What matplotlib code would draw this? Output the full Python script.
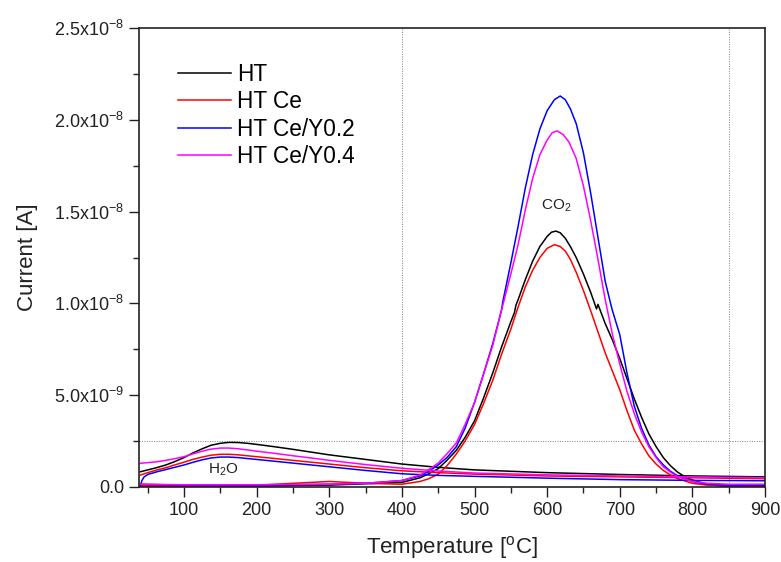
import matplotlib
matplotlib.use("Agg")
import matplotlib.pyplot as plt
from matplotlib.ticker import MultipleLocator, FixedLocator, FuncFormatter
import numpy as np

plt.rcParams['font.family'] = ['Liberation Sans', 'DejaVu Sans']
plt.rcParams['mathtext.default'] = 'regular'

# sample names and colours
names = ["HT", "HT Ce", "HT Ce/Y0.2", "HT Ce/Y0.4"]
colors = ["#000000", "#ff0000", "#0000ff", "#ff00ff"]

# H2O signal (in units of 1e-9 A)
h2o_t_ht = [40, 50, 62, 75, 87, 100, 112, 125, 137, 150, 162, 175, 187, 200, 225, 250, 275, 300, 350, 400, 450, 500, 600, 700, 800, 900]
h2o_ht = [0.83, 0.93, 1.05, 1.2, 1.38, 1.6, 1.85, 2.08, 2.27, 2.38, 2.43, 2.42, 2.38, 2.32, 2.19, 2.05, 1.9, 1.75, 1.5, 1.25, 1.07, 0.93, 0.78, 0.68, 0.6, 0.55]

h2o_t_ce = [40, 50, 62, 75, 87, 100, 112, 125, 137, 150, 162, 175, 187, 200, 225, 250, 275, 300, 350, 400, 450, 500, 600, 700, 800, 900]
h2o_ce = [0.65, 0.78, 0.92, 1.05, 1.2, 1.35, 1.5, 1.63, 1.73, 1.78, 1.78, 1.75, 1.7, 1.65, 1.55, 1.45, 1.35, 1.25, 1.05, 0.88, 0.78, 0.7, 0.6, 0.55, 0.5, 0.45]

h2o_t_y02 = [40, 42, 45, 50, 62, 75, 87, 100, 112, 125, 137, 150, 162, 175, 187, 200, 225, 250, 275, 300, 350, 400, 450, 500, 600, 700, 800, 900]
h2o_y02 = [0.1, 0.35, 0.55, 0.68, 0.82, 0.95, 1.07, 1.2, 1.34, 1.48, 1.58, 1.63, 1.63, 1.6, 1.55, 1.5, 1.4, 1.3, 1.2, 1.1, 0.9, 0.72, 0.63, 0.58, 0.48, 0.4, 0.36, 0.34]

h2o_t_y04 = [40, 62, 75, 87, 100, 112, 125, 137, 150, 162, 175, 187, 200, 225, 250, 275, 300, 350, 400, 450, 500, 600, 700, 800, 900]
h2o_y04 = [1.29, 1.37, 1.45, 1.54, 1.65, 1.8, 1.95, 2.06, 2.12, 2.12, 2.08, 2.02, 1.95, 1.83, 1.7, 1.58, 1.45, 1.22, 1.02, 0.87, 0.76, 0.66, 0.6, 0.55, 0.5]

# CO2 signal (in units of 1e-9 A)
co2_t_ht = [40, 200, 300, 400, 425, 437, 450, 462, 475, 487, 500, 512, 525, 537, 550, 555, 557, 560, 570, 580, 590, 600, 606, 612, 618, 625, 632, 640, 650, 660, 668, 670, 680, 690, 700, 710, 720, 730, 740, 750, 760, 770, 780, 790, 800, 820, 840, 900]
co2_ht = [0.05, 0.05, 0.1, 0.25, 0.5, 0.72, 1.0, 1.45, 2.0, 2.7, 3.6, 4.8, 6.2, 7.6, 9.0, 9.5, 9.9, 10.2, 11.3, 12.3, 13.1, 13.65, 13.88, 13.94, 13.85, 13.55, 13.1, 12.5, 11.6, 10.6, 9.7, 9.95, 8.9, 8.0, 7.0, 5.9, 4.8, 3.8, 2.9, 2.2, 1.6, 1.15, 0.8, 0.55, 0.38, 0.15, 0.05, 0.05]

co2_t_ce = [40, 200, 300, 350, 400, 425, 437, 450, 462, 475, 487, 500, 512, 525, 537, 550, 560, 570, 580, 590, 600, 610, 618, 625, 632, 640, 650, 660, 670, 680, 690, 700, 710, 720, 730, 740, 750, 760, 770, 780, 800, 820, 900]
co2_ce = [0.05, 0.1, 0.3, 0.2, 0.15, 0.3, 0.45, 0.7, 1.15, 1.8, 2.5, 3.4, 4.5, 5.8, 7.2, 8.6, 9.8, 10.9, 11.8, 12.5, 13.0, 13.2, 13.1, 12.85, 12.4, 11.7, 10.7, 9.6, 8.45, 7.3, 6.3, 5.3, 4.15, 3.1, 2.35, 1.7, 1.25, 0.9, 0.65, 0.45, 0.2, 0.1, 0.05]

co2_t_y02 = [40, 100, 200, 300, 350, 400, 425, 437, 450, 462, 475, 487, 500, 512, 525, 537, 539, 550, 560, 570, 580, 590, 600, 610, 618, 625, 632, 640, 650, 660, 670, 680, 688, 690, 700, 710, 720, 730, 740, 750, 760, 770, 780, 800, 820, 850, 900]
co2_y02 = [0.15, 0.1, 0.1, 0.15, 0.2, 0.35, 0.6, 0.85, 1.2, 1.6, 2.2, 3.2, 4.6, 6.1, 7.8, 9.6, 10.1, 12.2, 14.2, 16.3, 18.1, 19.5, 20.5, 21.1, 21.3, 21.1, 20.6, 19.8, 18.2, 16.0, 13.6, 11.2, 9.9, 9.6, 8.3, 6.2, 4.4, 3.2, 2.3, 1.65, 1.2, 0.85, 0.6, 0.3, 0.15, 0.1, 0.1]

co2_t_y04 = [40, 100, 200, 300, 350, 400, 425, 437, 450, 462, 475, 487, 500, 512, 525, 537, 550, 560, 570, 580, 590, 600, 607, 614, 622, 630, 640, 650, 660, 670, 680, 690, 700, 710, 720, 730, 740, 750, 760, 770, 780, 800, 820, 850, 900]
co2_y04 = [0.15, 0.12, 0.12, 0.15, 0.2, 0.35, 0.65, 0.95, 1.3, 1.8, 2.4, 3.4, 4.6, 6.1, 7.7, 9.6, 11.6, 13.2, 15.1, 16.8, 18.1, 18.9, 19.3, 19.4, 19.2, 18.8, 17.9, 16.4, 14.5, 12.4, 10.2, 8.3, 6.7, 5.2, 4.0, 3.0, 2.2, 1.6, 1.1, 0.8, 0.55, 0.3, 0.2, 0.15, 0.15]

h2o = [(h2o_t_ht, h2o_ht), (h2o_t_ce, h2o_ce), (h2o_t_y02, h2o_y02), (h2o_t_y04, h2o_y04)]
co2 = [(co2_t_ht, co2_ht), (co2_t_ce, co2_ce), (co2_t_y02, co2_y02), (co2_t_y04, co2_y04)]

yticks = [0, 5e-9, 1e-8, 1.5e-8, 2e-8, 2.5e-8]
ytick_labels = ["0.0", "5.0x10$^{-9}$", "1.0x10$^{-8}$", "1.5x10$^{-8}$", "2.0x10$^{-8}$", "2.5x10$^{-8}$"]

fig = plt.figure(figsize=(7.81, 5.62), dpi=100)
ax = fig.add_axes([0.178, 0.1335, 0.8015, 0.8165])

# reference lines
for xv in [400, 850]:
    ax.axvline(xv, color="#808080", lw=0.7, ls=(0, (1, 1.5)), zorder=1)
ax.axhline(2.5e-9, color="#808080", lw=0.7, ls=(0, (1, 1.5)), zorder=1)

for i in range(4):
    t, v = h2o[i]
    ax.plot(t, np.array(v) * 1e-9, color=colors[i], lw=1.1, label=names[i])
    t, v = co2[i]
    ax.plot(t, np.array(v) * 1e-9, color=colors[i], lw=1.1)

ax.text(133, 0.93e-9, "H$_2$O", fontsize=11, va="center", ha="left", color="#222222")
ax.text(592, 15.3e-9, "CO$_2$", fontsize=11, va="center", ha="left", color="#222222")

ax.set_xlim(38, 900)
ax.set_ylim(0, 2.5e-8)
ax.xaxis.set_major_locator(MultipleLocator(100))
ax.xaxis.set_minor_locator(MultipleLocator(50))
ax.yaxis.set_major_locator(FixedLocator(yticks))
ax.yaxis.set_major_formatter(FuncFormatter(lambda v, p: ytick_labels[yticks.index(v)] if v in yticks else ""))
ax.yaxis.set_minor_locator(MultipleLocator(2.5e-9))

ax.tick_params(which="both", direction="out", width=1.0, colors="#222222", labelsize=13)
ax.tick_params(which="major", length=7)
ax.tick_params(which="minor", length=4)
for s in ax.spines.values():
    s.set_linewidth(1.2)
    s.set_color("#222222")

ax.set_xlabel("Temperature [$^{o}$C]", fontsize=16, color="#222222", labelpad=11)
ax.set_ylabel("Current [A]", fontsize=16, color="#222222", labelpad=12)

ax.legend(loc="upper left", bbox_to_anchor=(0.063, 0.925), frameon=False, fontsize=16.3,
          handlelength=2.3, handletextpad=0.3, labelspacing=0.2, borderpad=0, borderaxespad=0)

fig.savefig("out.png", dpi=100)
